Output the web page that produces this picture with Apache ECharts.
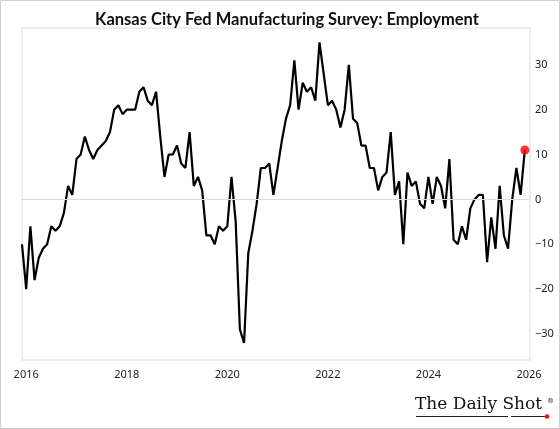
<!DOCTYPE html>
<html>
<head>
<meta charset="utf-8">
<script src="https://cdn.jsdelivr.net/npm/echarts@6/dist/echarts.min.js"></script>
<style>
html,body{margin:0;padding:0;background:#fff;}
#chart{width:560px;height:429px;}
</style>
</head>
<body>
<div id="chart"></div>
<script>
// Monthly data, Dec 2015 .. Dec 2025
const startYear = 2015, startMonth = 12;
const values = [
  -10,
  -20, -6, -18, -13, -11, -10, -6, -7, -6, -3, 3, 1,
  9, 10, 14, 11, 9, 11, 12, 13, 15, 20, 21, 19,
  20, 20, 20, 24, 25, 22, 21, 24, 14, 5, 10, 10,
  12, 8, 7, 15, 3, 5, 2, -8, -8, -10, -6, -7,
  -6, 5, -5, -29, -32, -12, -7, -1, 7, 7, 8, 1,
  7, 13, 18, 21, 31, 20, 26, 24, 25, 22, 35, 28,
  21, 22, 20, 16, 20, 30, 18, 17, 12, 12, 7, 7,
  2, 5, 6, 15, 1, 4, -10, 6, 3, 4, -1, -2,
  5, -1, 5, 3, -2, 9, -9, -10, -6, -9, -2, 0,
  1, 1, -14, -4, -11, 3, -8, -11, 0, 7, 1, 11
];
const xTickYears = [2016, 2018, 2020, 2022, 2024, 2026];
const yTicks = [-30, -20, -10, 0, 10, 20, 30];
const titleText = 'Kansas City Fed Manufacturing Survey: Employment';

// position of each month in fractional years
const xPos = values.map((v, i) => startYear + (startMonth - 1 + i) / 12);
const seriesData = values.map((v, i) => [xPos[i], v]);
const last = seriesData[seriesData.length - 1];

const chart = echarts.init(document.getElementById('chart'));
chart.setOption({
  animation: false,
  backgroundColor: '#fff',
  title: {
    text: titleText,
    left: 282, top: 6, textAlign: 'center',
    textStyle: {fontFamily: 'Lato', fontWeight: 'bold', fontSize: 16.5, color: '#111'}
  },
  grid: {left: 22, right: 30, top: 28, bottom: 69, show: true, borderColor: '#dcdcdc', borderWidth: 1, backgroundColor: 'transparent'},
  xAxis: {
    type: 'value',
    min: startYear + (startMonth - 1) / 12,
    max: 2026.02,
    axisLine: {show: false},
    axisTick: {show: false},
    splitLine: {show: false},
    axisLabel: {
      customValues: xTickYears,
      formatter: v => String(Math.round(v)),
      fontFamily: 'Noto Sans', fontSize: 11, color: '#222', margin: 9
    }
  },
  yAxis: {
    type: 'value',
    position: 'right',
    min: -35.8, max: 38.2,
    axisLine: {show: false},
    axisTick: {show: false},
    splitLine: {show: false},
    axisLabel: {
      customValues: yTicks,
      formatter: v => String(v).replace('-', '\u2212'),
      fontFamily: 'Noto Sans', fontSize: 11, color: '#222', margin: 5
    }
  },
  series: [
    {
      type: 'line',
      data: seriesData,
      showSymbol: false,
      symbol: 'none',
      lineStyle: {color: '#000', width: 2.2},
      markLine: {
        silent: true, symbol: 'none', label: {show: false},
        lineStyle: {color: '#dcdcdc', width: 1, type: 'solid'},
        data: [{yAxis: 0}]
      },
      z: 3
    },
    {
      type: 'scatter',
      data: [last],
      symbolSize: 9,
      itemStyle: {color: '#ff0000'},
      z: 4
    }
  ],
  graphic: [
    {type: 'rect', shape: {x: 0.5, y: 0.5, width: 559, height: 428}, style: {fill: 'none', stroke: '#cfcfcf', lineWidth: 1}, silent: true},
    {type: 'text', left: 415, top: 396, style: {text: 'The Daily Shot', font: '17px "DejaVu Serif"', fill: '#111'}},
    {type: 'text', left: 547, top: 398, style: {text: '\u00AE', font: '7px "DejaVu Serif"', fill: '#111'}},
    {type: 'line', shape: {x1: 416, y1: 416.5, x2: 508, y2: 416.5}, style: {stroke: '#222', lineWidth: 1}},
    {type: 'line', shape: {x1: 511, y1: 416.5, x2: 545, y2: 416.5}, style: {stroke: '#222', lineWidth: 1}},
    {type: 'circle', shape: {cx: 547, cy: 416.5, r: 2.2}, style: {fill: '#ff0000'}}
  ]
});
</script>
</body>
</html>
